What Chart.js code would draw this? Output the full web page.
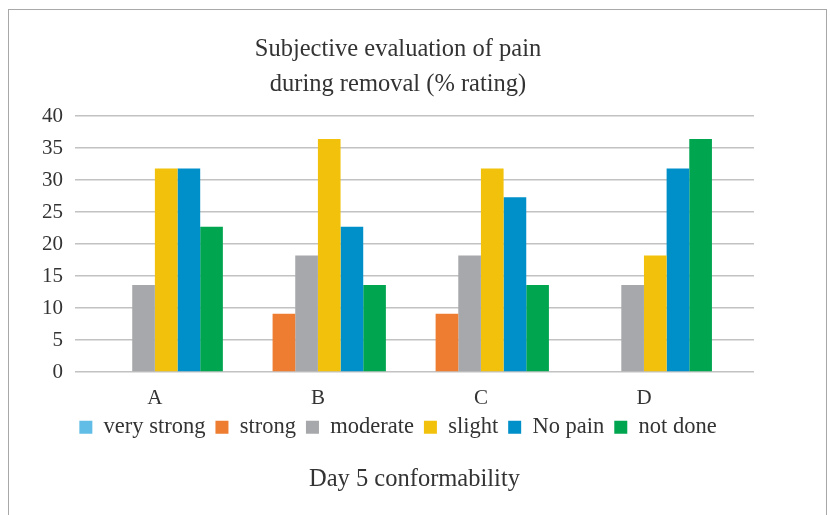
<!DOCTYPE html>
<html>
<head>
<meta charset="utf-8">
<script src="https://cdn.jsdelivr.net/npm/chart.js@4/dist/chart.umd.min.js"></script>
<style>
  body { margin: 0; background: #fff; }
  #wrap { position: relative; width: 830px; height: 515px; }
  #frame { position: absolute; left: 8px; top: 9px; width: 817px; height: 520px; border: 1.5px solid #a8a8a8; pointer-events: none; }
</style>
</head>
<body>
<div id="wrap">
  <canvas id="chart" width="830" height="515"></canvas>
  <div id="frame"></div>
</div>
<script>
const categories = ['A', 'B', 'C', 'D'];
const seriesNames = ['very strong', 'strong', 'moderate', 'slight', 'No pain', 'not done'];
const veryStrong = [0, 0, 0, 0];
const strong = [0, 9.1, 9.1, 0];
const moderate = [13.6, 18.2, 18.2, 13.6];
const slight = [31.8, 36.4, 31.8, 18.2];
const noPain = [31.8, 22.7, 27.3, 31.8];
const notDone = [22.7, 13.6, 13.6, 36.4];
const yTicks = [0, 5, 10, 15, 20, 25, 30, 35, 40];

const colors = ['#62bde6', '#ee7d31', '#a7a8ab', '#f2c10c', '#0090c9', '#00a550'];
const serif = "'Liberation Serif', 'DejaVu Serif', serif";

const allSeries = [veryStrong, strong, moderate, slight, noPain, notDone];

const chartInstance = new Chart(document.getElementById('chart'), {
  type: 'bar',
  data: {
    datasets: allSeries.map((vals, i) => ({
      label: seriesNames[i],
      data: vals.map((v, k) => ({ x: k, y: v })),
      backgroundColor: colors[i],
      borderWidth: 0,
      categoryPercentage: 0.834,
      barPercentage: 1
    }))
  },
  options: {
    responsive: false,
    animation: false,
    layout: { padding: { top: 32, left: 42, right: 76, bottom: 21 } },
    plugins: {
      title: {
        display: true,
        text: ['Subjective evaluation of pain', 'during removal (% rating)'],
        color: '#333',
        font: { family: serif, size: 24.5, weight: 'normal', lineHeight: 1.43 },
        padding: { top: 0, bottom: 14 }
      },
      subtitle: {
        display: true,
        position: 'bottom',
        fullSize: false,
        text: 'Day 5 conformability',
        color: '#333',
        font: { family: serif, size: 24.5, weight: 'normal' },
        padding: { top: 16, bottom: 0 }
      },
      legend: {
        position: 'bottom',
        labels: {
          color: '#333',
          font: { family: serif, size: 22.5 },
          boxWidth: 13,
          boxHeight: 13,
          padding: 10
        }
      },
      tooltip: { enabled: false }
    },
    scales: {
      x: {
        type: 'linear',
        offset: false,
        min: -0.49,
        max: 3.675,
        grid: { display: false, drawTicks: false, offset: false },
        border: { display: false },
        afterBuildTicks: axis => { axis.ticks = categories.map((c, k) => ({ value: k })); },
        afterFit: axis => { axis.height = 34; },
        ticks: {
          color: '#333',
          font: { family: serif, size: 21 },
          padding: 14,
          autoSkip: false,
          maxRotation: 0,
          callback: v => categories[v]
        }
      },
      y: {
        min: 0,
        max: 40,
        afterBuildTicks: axis => { axis.ticks = yTicks.map(v => ({ value: v })); },
        afterFit: axis => { axis.width = 33; },
        grid: { color: '#c2c2c2', lineWidth: 1.5, drawTicks: false },
        border: { display: false },
        ticks: {
          color: '#333',
          font: { family: serif, size: 21 },
          padding: 12
        }
      }
    }
  }
});
</script>
</body>
</html>
